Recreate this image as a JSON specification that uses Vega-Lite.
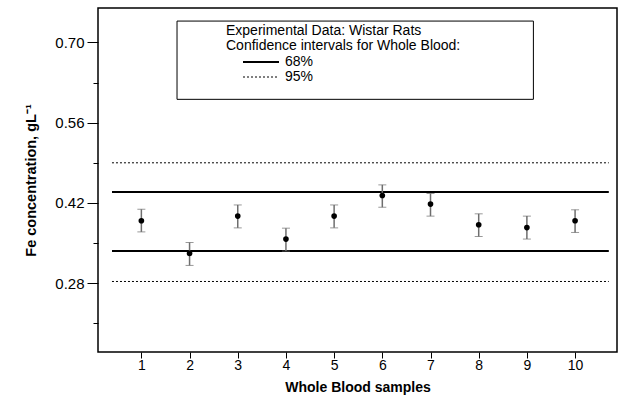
{
  "$schema": "https://vega.github.io/schema/vega-lite/v6.json",
  "width": 519,
  "height": 344,
  "autosize": "none",
  "padding": {"left": 98, "top": 8, "right": 7, "bottom": 51},
  "background": "white",
  "config": {
    "font": "Liberation Sans",
    "view": {"stroke": "black", "strokeWidth": 1.5},
    "axis": {"labelFont": "Liberation Sans", "titleFont": "Liberation Sans", "labelColor": "black", "titleColor": "black", "tickColor": "black", "domainColor": "black", "grid": false, "labelFontSize": 14, "titleFontSize": 14}
  },
  "datasets": {
    "samples": [
      {"sample": 1, "fe": 0.389, "lo": 0.3695, "hi": 0.409},
      {"sample": 2, "fe": 0.332, "lo": 0.311, "hi": 0.351},
      {"sample": 3, "fe": 0.397, "lo": 0.3765, "hi": 0.4165},
      {"sample": 4, "fe": 0.357, "lo": 0.336, "hi": 0.376},
      {"sample": 5, "fe": 0.397, "lo": 0.3765, "hi": 0.4165},
      {"sample": 6, "fe": 0.433, "lo": 0.4125, "hi": 0.4515},
      {"sample": 7, "fe": 0.418, "lo": 0.397, "hi": 0.4365},
      {"sample": 8, "fe": 0.382, "lo": 0.3615, "hi": 0.401},
      {"sample": 9, "fe": 0.377, "lo": 0.357, "hi": 0.397},
      {"sample": 10, "fe": 0.389, "lo": 0.3685, "hi": 0.408}
    ],
    "bounds": [
      {"level": "68%", "side": "upper", "value": 0.439},
      {"level": "68%", "side": "lower", "value": 0.336},
      {"level": "95%", "side": "upper", "value": 0.49},
      {"level": "95%", "side": "lower", "value": 0.283}
    ]
  },
  "layer": [
    {
      "data": {"values": [{}]},
      "mark": {"type": "rect", "fill": "white", "stroke": "black", "strokeWidth": 1},
      "encoding": {
        "x": {"datum": 1.74, "type": "quantitative", "scale": {"domain": [0.1, 10.87], "nice": false, "zero": false},
          "title": "Whole Blood samples",
          "axis": {"values": [1,2,3,4,5,6,7,8,9,10], "format": "d", "tickSize": 6, "labelPadding": 0, "titleFontWeight": "bold", "titleFontSize": 14, "titlePadding": 8, "labelFontSize": 14, "domain": false}},
        "x2": {"datum": 9.135},
        "y": {"datum": 0.7372, "type": "quantitative", "scale": {"domain": [0.16, 0.76], "nice": false, "zero": false},
          "title": "Fe concentration, gL⁻¹",
          "axis": {"values": [0.21, 0.28, 0.35, 0.42, 0.49, 0.56, 0.63, 0.70],
            "labelExpr": "round(datum.value*100) % 14 == 0 ? format(datum.value, '.2f') : ''",
            "tickSize": {"condition": {"test": "round(datum.value*100) % 14 == 0", "value": 11}, "value": 5},
            "labelFontSize": 15, "labelPadding": 3, "titleFontWeight": "bold", "titleFontSize": 14.5, "titlePadding": 16, "domain": false}},
        "y2": {"datum": 0.6007}
      }
    },
    {
      "data": {"name": "bounds"},
      "mark": {"type": "rule", "color": "black"},
      "encoding": {
        "y": {"field": "value", "type": "quantitative", "title": "Fe concentration, gL⁻¹"},
        "x": {"datum": 0.39, "type": "quantitative"},
        "x2": {"datum": 10.7},
        "strokeDash": {"field": "level", "type": "nominal", "scale": {"domain": ["68%", "95%"], "range": [[1, 0], [2, 2]]},
          "legend": {"orient": "none", "legendX": 128, "legendY": 16,
            "title": ["Experimental Data: Wistar Rats", "Confidence intervals for Whole Blood:"],
            "titleFontWeight": "normal", "titleFontSize": 14, "titleFont": "Liberation Sans", "titleColor": "black", "titleLineHeight": 15, "titlePadding": 2, "titleLimit": 400,
            "labelFontSize": 14, "labelFont": "Liberation Sans", "labelColor": "black", "labelOffset": 17,
            "symbolType": "M-3,0H3", "symbolSize": 144, "symbolOffset": 28, "symbolStrokeColor": "black", "rowPadding": 1}},
        "strokeWidth": {"field": "level", "type": "nominal", "scale": {"domain": ["68%", "95%"], "range": [2, 1]}}
      }
    },
    {
      "data": {"name": "samples"},
      "mark": {"type": "errorbar", "ticks": {"size": 8, "color": "#6e6e6e"}, "rule": {"color": "#6e6e6e", "strokeWidth": 1.5}},
      "encoding": {
        "x": {"field": "sample", "type": "quantitative", "title": "Whole Blood samples"},
        "y": {"field": "lo", "type": "quantitative", "title": "Fe concentration, gL⁻¹"},
        "y2": {"field": "hi"}
      }
    },
    {
      "data": {"name": "samples"},
      "mark": {"type": "point", "filled": true, "color": "black", "size": 32, "opacity": 1},
      "encoding": {
        "x": {"field": "sample", "type": "quantitative", "title": "Whole Blood samples"},
        "y": {"field": "fe", "type": "quantitative", "title": "Fe concentration, gL⁻¹"}
      }
    }
  ]
}
